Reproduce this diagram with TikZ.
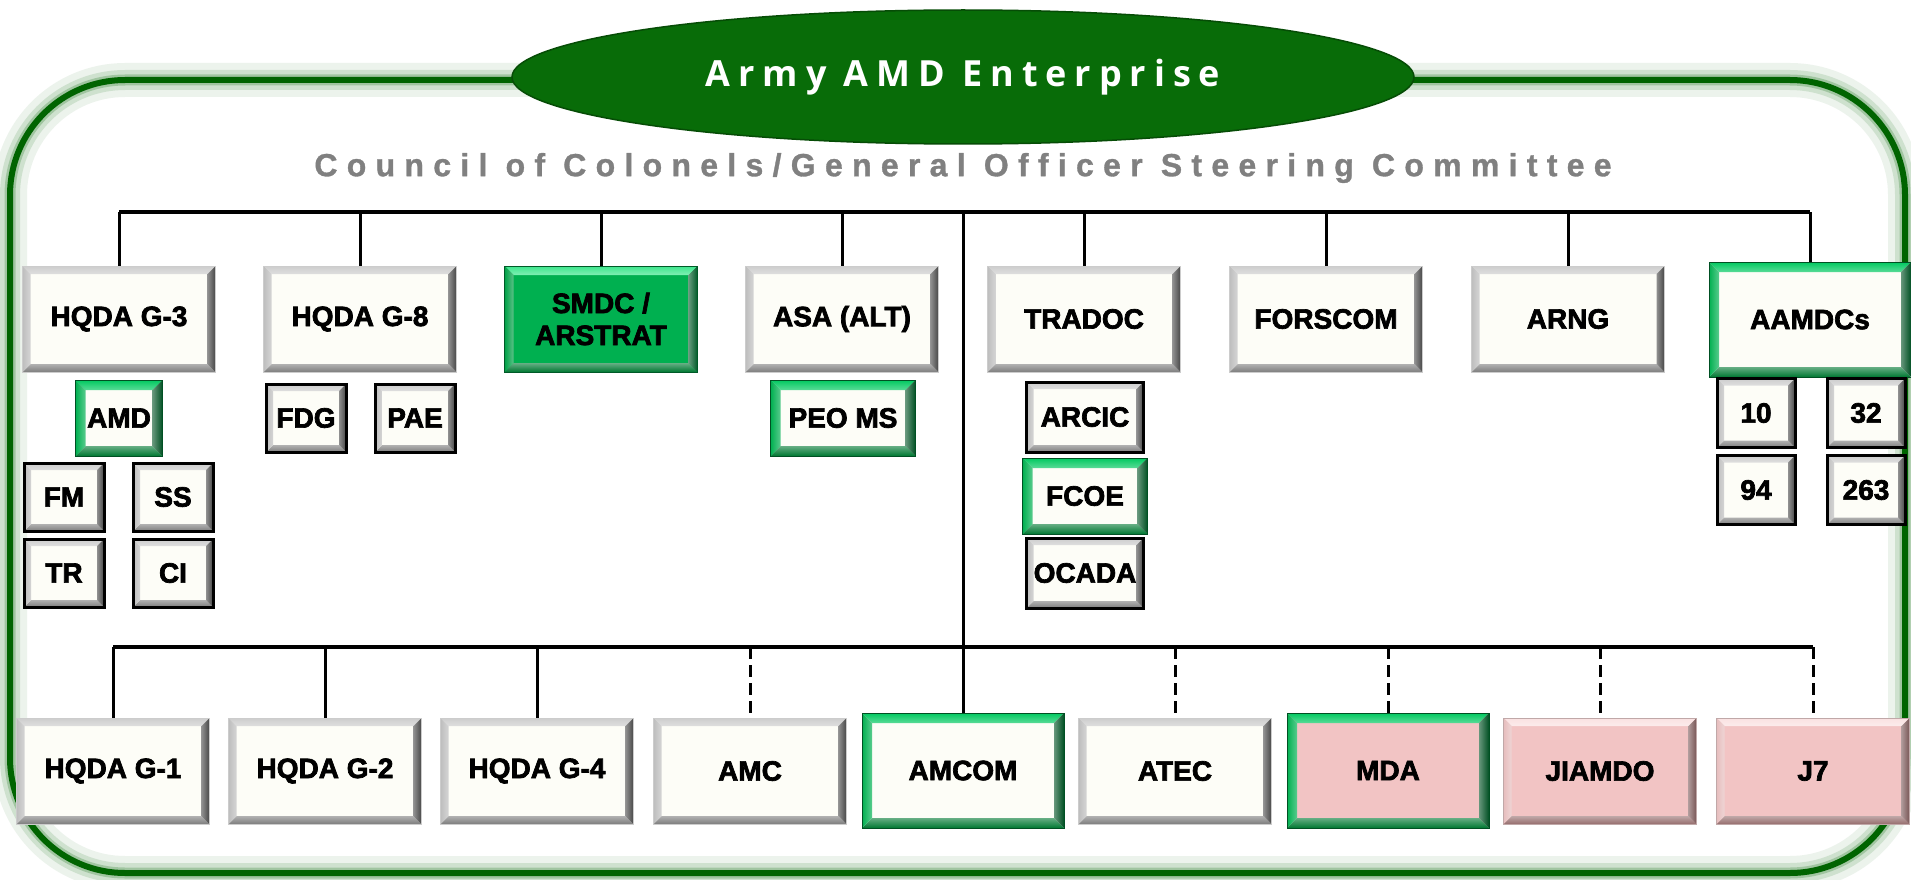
\documentclass[tikz,border=0pt]{standalone}
\usepackage{fontspec}
\setmainfont{Liberation Sans}
\newfontfamily\boxfont{Liberation Sans Bold}[FakeBold=2.5]
\newfontfamily\titlefont[LetterSpace=22]{Open Sans}
\newfontfamily\subfont{Liberation Sans Bold}[LetterSpace=29,FakeBold=1]
\usetikzlibrary{shapes.geometric}
\definecolor{ivory}{RGB}{253,253,247}
\definecolor{boxgreen}{RGB}{0,176,80}
\definecolor{framegreen}{RGB}{0,100,0}
\definecolor{ovalgreen}{RGB}{8,108,8}
\definecolor{pinkfill}{RGB}{242,196,196}
\definecolor{subgray}{RGB}{128,128,128}
\definecolor{bevtop}{RGB}{205,205,205}
\definecolor{bevbot}{RGB}{125,125,125}
\definecolor{bevleft}{RGB}{190,190,190}
\definecolor{bevright}{RGB}{70,70,70}
\definecolor{pinktop}{RGB}{250,225,225}
\definecolor{pinkbot}{RGB}{150,110,110}
\definecolor{pinkleft}{RGB}{230,190,190}
\definecolor{pinkright}{RGB}{120,85,85}
\definecolor{greentop}{RGB}{60,230,140}
\definecolor{greenbot}{RGB}{0,120,50}
\definecolor{greenleft}{RGB}{0,160,70}
\definecolor{greenright}{RGB}{0,90,40}
\definecolor{ringtop}{RGB}{0,200,95}
\definecolor{ringbot}{RGB}{0,120,50}
\definecolor{ringright}{RGB}{0,80,35}
\tikzset{
  bevel/.style n args={5}{path picture={
    \coordinate (bsw) at (path picture bounding box.south west);
    \coordinate (bse) at (path picture bounding box.south east);
    \coordinate (bnw) at (path picture bounding box.north west);
    \coordinate (bne) at (path picture bounding box.north east);
    \shade[top color=#2, bottom color=#2!65!white] (bnw) -- (bne) -- ([xshift=-#1,yshift=-#1]bne) -- ([xshift=#1,yshift=-#1]bnw) -- cycle;
    \shade[top color=#3!60!white, bottom color=#3] (bsw) -- (bse) -- ([xshift=-#1,yshift=#1]bse) -- ([xshift=#1,yshift=#1]bsw) -- cycle;
    \shade[left color=#4, right color=#4!65!white] (bsw) -- (bnw) -- ([xshift=#1,yshift=-#1]bnw) -- ([xshift=#1,yshift=#1]bsw) -- cycle;
    \shade[left color=#5!60!white, right color=#5] (bse) -- (bne) -- ([xshift=-#1,yshift=-#1]bne) -- ([xshift=-#1,yshift=#1]bse) -- cycle;
  }},
  box/.style={rectangle, inner sep=0pt, align=center, text=black,
    font=\boxfont\fontsize{28}{32}\selectfont},
  bigbox/.style={box, minimum width=193pt, minimum height=106pt},
  ringbig/.style={box, minimum width=202pt, minimum height=115pt},
  plain/.style={fill=ivory, draw=gray!40, line width=1pt,
    bevel={8pt}{bevtop}{bevbot}{bevleft}{bevright}},
  greenfill/.style={fill=boxgreen, draw=greenright, line width=1pt,
    bevel={9pt}{greentop}{greenbot}{greenleft}{greenright}},
  ring/.style={fill=ivory, draw=ringright, line width=1pt,
    bevel={10pt}{ringtop}{ringbot}{boxgreen}{ringright}},
  pink/.style={fill=pinkfill, draw=pinkbot!60, line width=1pt,
    bevel={8pt}{pinktop}{pinkbot}{pinkleft}{pinkright}},
  pinkring/.style={fill=pinkfill, draw=ringright, line width=1pt,
    bevel={10pt}{ringtop}{ringbot}{boxgreen}{ringright}},
  smallbox/.style={box, minimum width=80pt, minimum height=68pt, fill=ivory,
    draw=black, line width=3pt, bevel={7pt}{bevtop}{bevbot}{bevleft}{bevright}},
  oval/.style={ellipse, inner sep=0pt, minimum width=902pt, minimum height=134pt,
    fill=ovalgreen, draw=ovalgreen!70!black, line width=1.5pt, text=white,
    font=\titlefont\bfseries\fontsize{36}{40}\selectfont},
  subtitle/.style={inner sep=0pt, text=subgray,
    font=\subfont\fontsize{32}{36}\selectfont},
  bus/.style={line width=3.5pt},
  drop/.style={line width=3pt},
  dashdrop/.style={line width=3pt, dash pattern=on 12pt off 6pt}
}
\begin{document}
\begin{tikzpicture}[x=1pt,y=-1pt]
\useasboundingbox[fill=white] (0,0) rectangle (1911,880);
\draw[framegreen!60!white, line width=34pt, opacity=0.12, rounded corners=115pt] (10,80) rectangle (1905,873);
\draw[framegreen!60!white, line width=20pt, opacity=0.22, rounded corners=115pt] (10,80) rectangle (1905,873);
\draw[framegreen!70!white, line width=11pt, opacity=0.35, rounded corners=115pt] (10,80) rectangle (1905,873);
\draw[framegreen, line width=6pt, rounded corners=115pt] (10,80) rectangle (1905,873);

\node[oval] (title) at (963,77) {Army AMD Enterprise};
\draw[ovalgreen!45!white, line width=2pt, opacity=0.7] (963,81) ++(165:436pt) arc[start angle=165, end angle=15, x radius=436pt, y radius=58pt];
\node[subtitle] (coc) at (963,168) {Council of Colonels/General Officer Steering Committee};

\coordinate (tbus) at (963,212);
\coordinate (bbus) at (963,647);

\node[bigbox, plain] (g3) at (119,319) {HQDA G-3};
\node[bigbox, plain] (g8) at (360,319) {HQDA G-8};
\node[bigbox, greenfill] (smdc) at (601,319) {SMDC /\\ARSTRAT};
\node[bigbox, plain] (asa) at (842,319) {ASA (ALT)};
\node[bigbox, plain] (tradoc) at (1084,319) {TRADOC};
\node[bigbox, plain] (forscom) at (1326,319) {FORSCOM};
\node[bigbox, plain] (arng) at (1568,319) {ARNG};
\node[ringbig, ring] (aamdc) at (1810,319.5) {AAMDCs};

\node[box, ring, minimum width=87pt, minimum height=76pt] (amd) at (119,418) {AMD};
\node[smallbox] (fm) at (64,497) {FM};
\node[smallbox] (ss) at (173,497) {SS};
\node[smallbox] (tr) at (64,573) {TR};
\node[smallbox] (ci) at (173,573) {CI};
\node[smallbox] (fdg) at (306,418) {FDG};
\node[smallbox] (pae) at (415,418) {PAE};
\node[box, ring, minimum width=145pt, minimum height=76pt] (peo) at (843,418) {PEO MS};
\node[smallbox, minimum width=117pt, minimum height=70pt] (arcic) at (1085,417) {ARCIC};
\node[box, ring, minimum width=125pt, minimum height=76pt] (fcoe) at (1085,496) {FCOE};
\node[smallbox, minimum width=117pt, minimum height=70pt] (ocada) at (1085,573) {OCADA};
\node[smallbox, minimum width=78pt, minimum height=69pt] (d10) at (1756,413) {10};
\node[smallbox, minimum width=78pt, minimum height=69pt] (d32) at (1866,413) {32};
\node[smallbox, minimum width=78pt, minimum height=69pt] (d94) at (1756,490) {94};
\node[smallbox, minimum width=78pt, minimum height=69pt] (d263) at (1866,490) {263};

\node[bigbox, plain] (g1) at (113,771) {HQDA G-1};
\node[bigbox, plain] (g2) at (325,771) {HQDA G-2};
\node[bigbox, plain] (g4) at (537,771) {HQDA G-4};
\node[bigbox, plain] (amc) at (750,771) {AMC};
\node[ringbig, ring] (amcom) at (963,770.5) {AMCOM};
\node[bigbox, plain] (atec) at (1175,771) {ATEC};
\node[ringbig, pinkring] (mda) at (1388,770.5) {MDA};
\node[bigbox, pink] (jiamdo) at (1600,771) {JIAMDO};
\node[bigbox, pink] (j7) at (1813,771) {J7};

\draw[bus] (g3.north |- tbus) -- (aamdc.north |- tbus);
\draw[drop] (g3.north |- tbus) -- (g3.north);
\draw[drop] (g8.north |- tbus) -- (g8.north);
\draw[drop] (smdc.north |- tbus) -- (smdc.north);
\draw[drop] (asa.north |- tbus) -- (asa.north);
\draw[drop] (tradoc.north |- tbus) -- (tradoc.north);
\draw[drop] (forscom.north |- tbus) -- (forscom.north);
\draw[drop] (arng.north |- tbus) -- (arng.north);
\draw[drop] (aamdc.north |- tbus) -- (aamdc.north);
\draw[drop] (tbus) -- (amcom.north);

\draw[bus, line width=4.5pt] (g1.north |- bbus) -- (j7.north |- bbus);
\draw[drop] (g1.north |- bbus) -- (g1.north);
\draw[drop] (g2.north |- bbus) -- (g2.north);
\draw[drop] (g4.north |- bbus) -- (g4.north);
\draw[dashdrop] (amc.north |- bbus) -- (amc.north);
\draw[dashdrop] (atec.north |- bbus) -- (atec.north);
\draw[dashdrop] (mda.north |- bbus) -- (mda.north);
\draw[dashdrop] (jiamdo.north |- bbus) -- (jiamdo.north);
\draw[dashdrop] (j7.north |- bbus) -- (j7.north);
\end{tikzpicture}
\end{document}
